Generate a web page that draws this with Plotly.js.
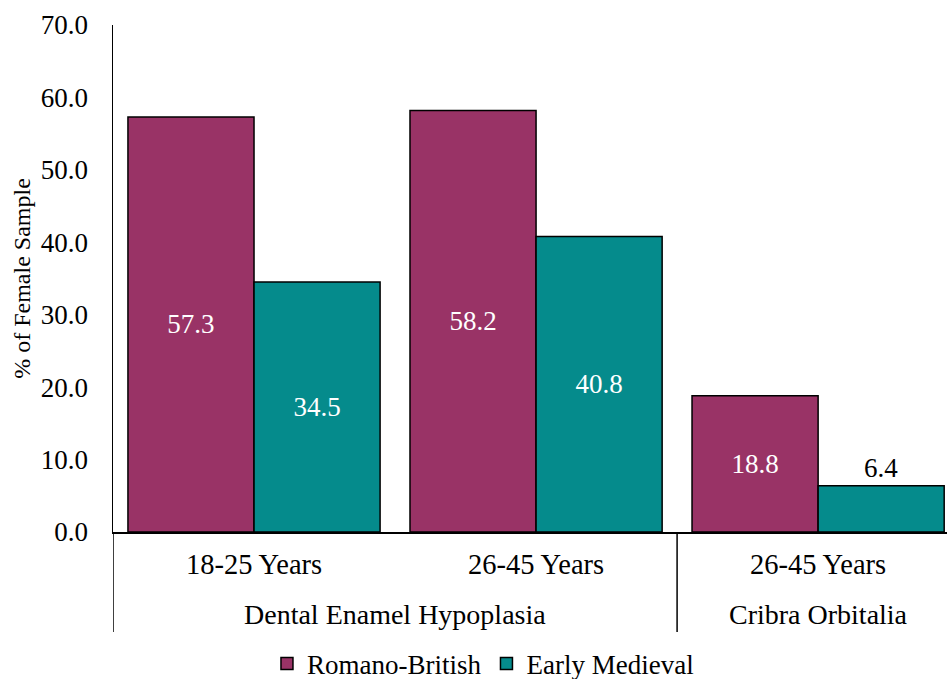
<!DOCTYPE html>
<html>
<head>
<meta charset="utf-8">
<script src="https://cdn.plot.ly/plotly-3.0.1.min.js"></script>
<style>html,body{margin:0;padding:0;background:#fff;}#chart{width:947px;height:679px;}</style>
</head>
<body>
<div id="chart"></div>
<script>
const groups = ["Dental Enamel Hypoplasia", "Dental Enamel Hypoplasia", "Cribra Orbitalia"];
const ageLabels = ["18-25 Years", "26-45 Years", "26-45 Years"];
const romanoBritish = [57.3, 58.2, 18.8];
const earlyMedieval = [34.5, 40.8, 6.4];
const yTicks = [0, 10, 20, 30, 40, 50, 60, 70];

const FONT = "Liberation Serif";
const FS = 27;
const fmt = v => v.toFixed(1);
const keys = groups.map((g, i) => g + " | " + ageLabels[i]);
const groupNames = [...new Set(groups)];

const barCommon = {
  type: "bar", x: keys, insidetextanchor: "middle", textangle: 0,
  insidetextfont: {color: "#ffffff", size: FS, family: FONT},
  outsidetextfont: {color: "#000000", size: FS, family: FONT},
  hoverinfo: "skip", cliponaxis: false
};
const traces = [
  Object.assign({}, barCommon, {
    name: "Romano-British", y: romanoBritish,
    text: romanoBritish.map(fmt),
    textposition: romanoBritish.map(v => v > 10 ? "inside" : "outside"),
    marker: {color: "#993366", line: {color: "#000000", width: 1.5}}
  }),
  Object.assign({}, barCommon, {
    name: "Early Medieval", y: earlyMedieval,
    text: earlyMedieval.map(fmt),
    textposition: earlyMedieval.map(v => v > 10 ? "inside" : "outside"),
    marker: {color: "#058B8C", line: {color: "#000000", width: 1.5}}
  })
];

const annotations = groupNames.map(g => {
  const idx = groups.map((x, i) => x === g ? i : -1).filter(i => i >= 0);
  const mid = (idx[0] + idx[idx.length - 1]) / 2;
  return {
    xref: "x", yref: "paper", x: mid, y: -0.162, yanchor: "middle",
    text: g, showarrow: false, font: {size: 28, family: FONT, color: "#000000"}
  };
});
const dividerPos = [-0.5];
groups.forEach((g, i) => { if (i > 0 && g !== groups[i - 1]) dividerPos.push(i - 0.5); });
const shapes = dividerPos.map(p => ({
  type: "line", xref: "x", yref: "paper", x0: p, x1: p, y0: 0, y1: -0.197,
  line: {color: "#000000", width: 1.5}
}));

const layout = {
  width: 947, height: 679,
  margin: {l: 113, r: 0, t: 25, b: 147},
  paper_bgcolor: "#ffffff", plot_bgcolor: "#ffffff",
  font: {family: FONT, size: FS, color: "#000000"},
  barmode: "group",
  bargap: 0.106, bargroupgap: 0,
  showlegend: true,
  legend: {
    orientation: "h", xref: "container", x: 0.51, xanchor: "center",
    yref: "container", y: 0.022, yanchor: "middle",
    font: {size: FS, family: FONT}, traceorder: "normal",
    itemwidth: 30
  },
  annotations: annotations,
  shapes: shapes,
  xaxis: {
    type: "category",
    range: [-0.5, 2.457],
    tickvals: keys, ticktext: ageLabels,
    showline: true, linecolor: "#000000", linewidth: 1.5,
    showgrid: false, zeroline: false,
    ticks: "", ticklabelstandoff: 6,
    tickfont: {size: 28.5, family: FONT},
    automargin: false
  },
  yaxis: {
    range: [0, 70],
    tickvals: yTicks, ticktext: yTicks.map(fmt),
    showline: true, linecolor: "#000000", linewidth: 1.5,
    showgrid: false, zeroline: false,
    ticks: "", ticklabelstandoff: 18,
    tickfont: {size: FS, family: FONT},
    title: {text: "% of Female Sample", font: {size: 24, family: FONT}, standoff: 3},
    automargin: false
  }
};

Plotly.newPlot("chart", traces, layout, {displayModeBar: false, staticPlot: true});
</script>
</body>
</html>
